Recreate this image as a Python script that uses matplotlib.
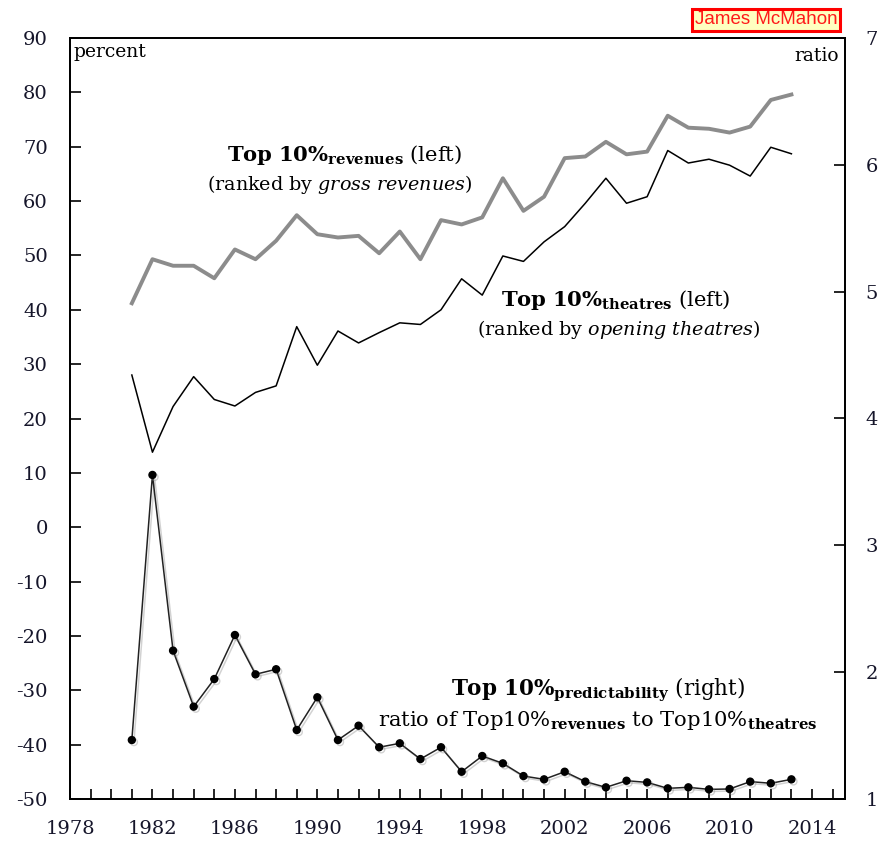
import matplotlib
matplotlib.use("Agg")
import matplotlib.pyplot as plt
import matplotlib.patheffects as pe

years = list(range(1981, 2014))
top10_revenues = [41.2, 49.3, 48.1, 48.1, 45.8, 51.1, 49.3, 52.7, 57.4, 53.9, 53.3, 53.6,
                  50.4, 54.4, 49.3, 56.5, 55.7, 57.0, 64.2, 58.2, 60.8, 67.9, 68.2, 70.9,
                  68.6, 69.1, 75.7, 73.5, 73.3, 72.6, 73.7, 78.6, 79.6]
top10_theatres = [28.0, 13.8, 22.2, 27.7, 23.5, 22.3, 24.8, 26.0, 36.9, 29.8, 36.1, 33.9,
                  35.8, 37.6, 37.3, 40.0, 45.7, 42.7, 49.9, 48.9, 52.5, 55.3, 59.6, 64.2,
                  59.6, 60.8, 69.3, 67.0, 67.7, 66.6, 64.6, 69.9, 68.7]
predictability = [1.465, 3.555, 2.17, 1.728, 1.946, 2.293, 1.983, 2.023, 1.544, 1.802,
                  1.465, 1.578, 1.408, 1.439, 1.315, 1.408, 1.215, 1.339, 1.281, 1.181,
                  1.155, 1.215, 1.137, 1.092, 1.144, 1.131, 1.084, 1.092, 1.076, 1.079,
                  1.137, 1.124, 1.155]
x_ticklabels = list(range(1978, 2015, 4))
left_ticks = list(range(-50, 91, 10))
right_ticks = list(range(1, 8))

plt.rcParams['font.family'] = ['DejaVu Serif']
plt.rcParams['mathtext.fontset'] = 'custom'
plt.rcParams['mathtext.rm'] = 'DejaVu Serif'
plt.rcParams['mathtext.bf'] = 'DejaVu Serif:bold'
plt.rcParams['mathtext.it'] = 'DejaVu Serif:italic'

label_color = '#15152a'

fig = plt.figure(figsize=(8.81, 8.44), dpi=100)
ax = fig.add_axes([70/881, 45/844, 775/881, 761/844])
ax2 = ax.twinx()

ax.plot(years, top10_revenues, color='#8c8c8c', lw=2.8, zorder=3)
ax.plot(years, top10_theatres, color='black', lw=1.1, zorder=3)
ax2.plot(years, predictability, color='#222222', lw=1.1, marker='o', ms=5,
         markerfacecolor='black', markeredgecolor='black',
         path_effects=[pe.SimpleLineShadow(offset=(1.5, -1.5), shadow_color='gray', alpha=0.35),
                       pe.Normal()])

ax.set_xlim(1978, 2015.6)
ax.set_ylim(-50, 90)
ax2.set_ylim(1, 7)

ax.set_xticks(x_ticklabels)
ax.set_xticklabels([str(v) for v in x_ticklabels], fontsize=14, color=label_color)
ax.set_xticks(list(range(1979, 2016)), minor=True)
ax.set_yticks(left_ticks)
ax.set_yticklabels([str(v) for v in left_ticks], fontsize=14, color=label_color)
ax2.set_yticks(right_ticks)
ax2.set_yticklabels([str(v) for v in right_ticks], fontsize=14, color=label_color)

ax.tick_params(axis='x', which='both', direction='in', length=7, width=1.2, pad=15, top=False)
ax.tick_params(axis='y', direction='in', length=8, width=1.2, pad=16)
ax2.tick_params(axis='y', direction='in', length=8, width=1.2, pad=15)
for a in (ax, ax2):
    for s in a.spines.values():
        s.set_linewidth(1.3)

ax.text(0.004, 0.993, 'percent', transform=ax.transAxes, ha='left', va='top', fontsize=13.5)
ax.text(0.992, 0.988, 'ratio', transform=ax.transAxes, ha='right', va='top', fontsize=13.5)

ax.text(1991.3, 68.5, r'$\mathbf{Top\ 10\%}_{\mathbf{revenues}}$ (left)', ha='center', va='center', fontsize=15.2)
ax.text(1991.1, 63.0, r'(ranked by $\mathit{gross\ revenues}$)', ha='center', va='center', fontsize=13.8)
ax.text(2004.5, 41.8, r'$\mathbf{Top\ 10\%}_{\mathbf{theatres}}$ (left)', ha='center', va='center', fontsize=15.2)
ax.text(2004.6, 36.3, r'(ranked by $\mathit{opening\ theatres}$)', ha='center', va='center', fontsize=13.8)
ax.text(2003.6, -30.0, r'$\mathbf{Top\ 10\%}_{\mathbf{predictability}}$ (right)', ha='center', va='center', fontsize=15.5)
ax.text(2003.6, -35.5, r'ratio of Top10%$_{\mathbf{revenues}}$ to Top10%$_{\mathbf{theatres}}$',
        ha='center', va='center', fontsize=15.2)

fig.text(766/881, 1 - 20/844, 'James McMahon', ha='center', va='center', fontsize=13.5,
         family='Liberation Sans', color='#ff1a1a',
         bbox=dict(boxstyle='square,pad=0.15', facecolor='#ffffc0', edgecolor='red', linewidth=2.2))

fig.savefig('out.png', dpi=100)
